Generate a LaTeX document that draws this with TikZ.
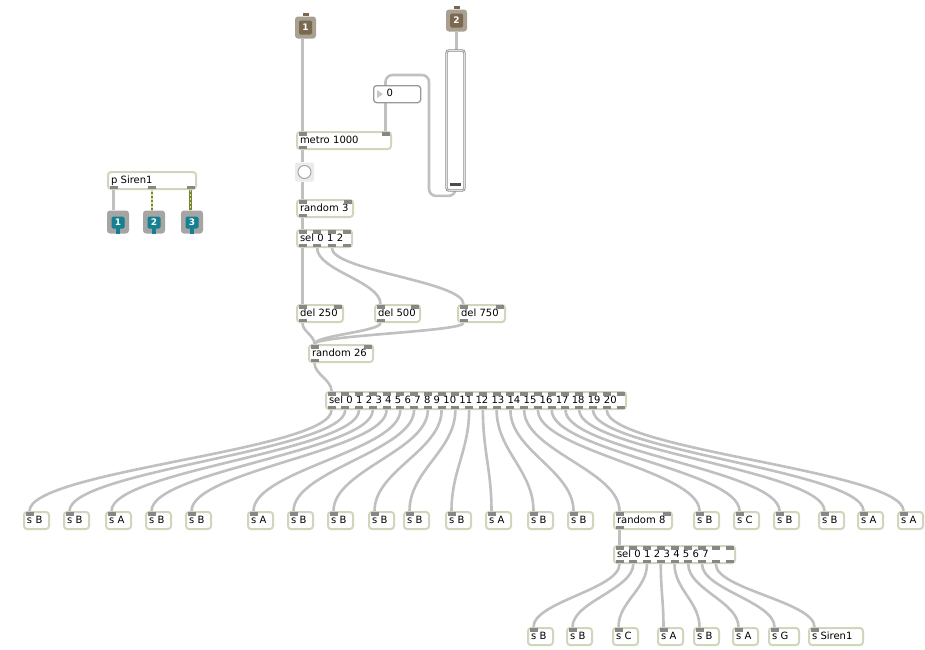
\documentclass[tikz,border=0pt]{standalone}
\usepackage{fontspec}
\setsansfont{DejaVu Sans}
\usetikzlibrary{calc,backgrounds}

\definecolor{objline}{RGB}{208,214,188}
\definecolor{tabgray}{RGB}{135,135,135}
\definecolor{cordgray}{RGB}{192,192,192}
\definecolor{inletout}{RGB}{168,160,145}
\definecolor{inletin}{RGB}{122,105,78}
\definecolor{outletout}{RGB}{165,165,165}
\definecolor{outletin}{RGB}{20,128,145}
\definecolor{sigdark}{RGB}{118,132,58}
\definecolor{siglight}{RGB}{218,225,135}

% inlet/outlet tabs of a box: name, inlets, outlets
\newcommand\ports[3]{%
  \path (#1.north west) ++(6.5pt,0pt) coordinate (#1-tl)
        (#1.north east) ++(-6.5pt,0pt) coordinate (#1-tr)
        (#1.south west) ++(6.5pt,0pt) coordinate (#1-bl)
        (#1.south east) ++(-6.5pt,0pt) coordinate (#1-br);
  \ifnum#2>0
    \foreach \pk in {1,...,#2}{%
      \pgfmathsetmacro\pp{(\pk-1)/max(#2-1,1)}%
      \coordinate (#1-i\pk) at ($(#1-tl)!\pp!(#1-tr)$);
      \fill[tab] ($(#1-i\pk)+(-4pt,-1pt)$) rectangle ++(8pt,-3.5pt);
    }%
  \fi
  \ifnum#3>0
    \foreach \pk in {1,...,#3}{%
      \pgfmathsetmacro\pp{(\pk-1)/max(#3-1,1)}%
      \coordinate (#1-o\pk) at ($(#1-bl)!\pp!(#1-br)$);
      \fill[tab] ($(#1-o\pk)+(-4pt,1pt)$) rectangle ++(8pt,3.5pt);
    }%
  \fi
}

\begin{document}
\begin{tikzpicture}[x=1pt, y=-1pt,
  obj/.style={draw=objline, line width=2pt, rounded corners=3pt, fill=white, anchor=north west,
    minimum height=17pt, inner xsep=3pt, inner ysep=0pt, text width=#1, align=left,
    font=\sffamily\fontsize{10}{12}\selectfont, text height=7.5pt, text depth=2pt},
  tab/.style={fill=tabgray},
  wire/.style={draw=cordgray, line width=2.6pt},
  cord/.style={wire, to path={let \p1=(\tikztostart), \p2=(\tikztotarget),
    \n1={max(abs(\y2-\y1)*0.4,4pt)} in
    .. controls +(0pt,-\n1) and +(0pt,\n1) .. (\tikztotarget)}},
  sigwire/.style={draw=sigdark, line width=2.6pt,
    postaction={draw=siglight, line width=1.4pt, dash pattern=on 2pt off 2pt}},
  inletbox/.style={fill=inletout, rounded corners=3pt, minimum width=21pt, minimum height=22pt,
    inner sep=0pt, text=white, font=\sffamily\bfseries\fontsize{9}{10}\selectfont,
    path picture={\fill[inletin, rounded corners=1.5pt]
      ($(path picture bounding box.south west)+(4pt,4pt)$) rectangle
      ($(path picture bounding box.north east)+(-4pt,-4pt)$);}},
  outletbox/.style={inletbox, fill=outletout, minimum width=22pt, minimum height=23pt,
    path picture={\fill[outletin, rounded corners=1.5pt]
      ($(path picture bounding box.south west)+(4.5pt,5pt)$) rectangle
      ($(path picture bounding box.north east)+(-4.5pt,-6pt)$);}},
  numbox/.style={draw=black!40, line width=1.3pt, rounded corners=3pt, fill=white, anchor=north west,
    minimum height=17pt, inner xsep=3pt, inner ysep=0pt, text width=41pt, align=left,
    font=\sffamily\fontsize{10}{12}\selectfont, text height=7.5pt, text depth=2pt},
  slider/.style={draw=black!45, line width=0.8pt, double=black!12, double distance=0.8pt,
    rounded corners=2.5pt, fill=white, minimum width=18pt, minimum height=140pt, inner sep=0pt},
  bangbox/.style={fill=black!8, rounded corners=2pt, minimum size=19pt, inner sep=0pt},
  bangdot/.style={circle, draw=black!35, fill=white, line width=1pt, minimum size=13pt, inner sep=0pt},
]
\useasboundingbox (0,0) rectangle (925,649);

% === INLETS, SLIDER, METRO ===
\node[inletbox] (in1) at (305.5,27.5) {1};
\node[inletbox] (in2) at (456.5,20.5) {2};
\fill[inletin] ($(in1.north)+(-3pt,0pt)$) rectangle ++(6pt,3pt);
\fill[inletin] ($(in2.north)+(-3pt,0pt)$) rectangle ++(6pt,3pt);

\node[slider] (slider) at (455.5,120.5) {};
\fill[black!70] ($(slider.south west)+(3.5pt,5pt)$) rectangle ($(slider.south east)+(-3.5pt,8pt)$);

\node[numbox] (num) at (373,85) {\hspace*{10pt}0};
\fill[black!22] ($(num.west)+(4pt,4pt)$) -- ++(0pt,-8pt) -- ++(6pt,4pt) -- cycle;
\coordinate (loop) at (429,75);

\node[obj=88pt] (metro) at (296,131) {metro 1000};
\node[bangbox] (bang) at (304.5,172) {};
\node[bangdot] (bangc) at (bang.center) {};
\node[obj=50pt] (rnd3) at (296,199) {random 3};
\node[obj=49pt] (sel3) at (296,229) {sel 0 1 2};

% === DELAYS ===
\node[obj=40pt] (del1) at (296,304) {del 250};
\node[obj=39pt] (del2) at (374,304) {del 500};
\node[obj=41pt] (del3) at (457,304) {del 750};
\node[obj=58pt] (rnd26) at (308,344) {random 26};
\node[obj=294pt] (sel21) at (325,391) {sel 0 1 2 3 4 5 6 7 8 9 10 11 12 13 14 15 16 17 18 19 20};

% === SENDS ===
\foreach \k/\x/\t in {1/23/s B, 2/63/s B, 3/105/s A, 4/145/s B, 5/185/s B, 6/247/s A,
    7/287/s B, 8/327/s B, 9/368/s B, 10/403/s B, 11/445/s B, 12/485/s A, 13/527/s B,
    14/567/s B, 16/693/s B, 17/733/s C, 18/773/s B, 19/818/s B, 20/857/s A, 21/897/s A}
  \node[obj=19pt] (b\k) at (\x,511) {\t};
\node[obj=52pt] (rnd8) at (613,511) {random 8};
\node[obj=115pt] (sel8) at (613,545) {sel 0 1 2 3 4 5 6 7};
\foreach \k/\x/\w/\t in {1/527/19pt/s B, 2/566/19pt/s B, 3/612/19pt/s C, 4/657/19pt/s A,
    5/693/19pt/s B, 6/732/19pt/s A, 7/768/24pt/s G, 8/808/48pt/s Siren1}
  \node[obj=\w] (c\k) at (\x,627) {\t};

% === SUBPATCH ===
\node[obj=82pt] (siren) at (107,171) {p Siren1};
\node[outletbox] (out1) at (118,222) {1};
\node[outletbox] (out2) at (154,222) {2};
\node[outletbox] (out3) at (192,222) {3};
\foreach \o in {out1,out2,out3}
  \fill[outletin] ($(\o.south)+(-2pt,0pt)$) rectangle ++(4pt,6pt);

% tabs
\ports{metro}{2}{1}
\ports{rnd3}{2}{1}
\ports{sel3}{4}{4}
\foreach \d in {del1,del2,del3} {\ports{\d}{2}{1}}
\ports{rnd26}{2}{1}
\ports{sel21}{22}{22}
\foreach \k in {1,...,14,16,17,...,21} {\ports{b\k}{1}{0}}
\ports{rnd8}{2}{1}
\ports{sel8}{9}{9}
\foreach \k in {1,...,8} {\ports{c\k}{1}{0}}
\ports{siren}{0}{3}

% === CORDS ===
\begin{scope}[on background layer]
\fill[white] (0,0) rectangle (925,649);
\draw[wire] (metro-i1 |- in1.south) -- (metro-i1);
\draw[wire] (in2.south) -- (in2.south |- slider.north);
\draw[wire, rounded corners=7pt] (slider.south) -- ++(0pt,-5pt) -| (loop) -| (num.north -| metro-i2);
\draw[wire] (num.south -| metro-i2) -- (metro-i2);
\draw[wire] (metro-o1) -- (metro-o1 |- bang.north);
\draw[wire] (rnd3-i1 |- bang.south) -- (rnd3-i1);
\draw[cord] (rnd3-o1) to (sel3-i1);
\draw[cord] (sel3-o1) to (del1-i1);
\draw[cord] (sel3-o2) to (del2-i1);
\draw[cord] (sel3-o3) to (del3-i1);
\foreach \d in {1,2,3} \draw[cord] (del\d-o1) to (rnd26-i1);
\draw[cord] (rnd26-o1) to (sel21-i1);
\foreach \k in {1,...,14,16,17,...,21} \draw[cord] (sel21-o\k) to (b\k-i1);
\draw[cord] (sel21-o15) to (rnd8-i1);
\draw[cord] (rnd8-o1) to (sel8-i1);
\foreach \k in {1,...,8} \draw[cord] (sel8-o\k) to (c\k-i1);
\draw[wire] (siren-o1) -- (siren-o1 |- out1.north);
\draw[sigwire] (siren-o2) -- (siren-o2 |- out2.north);
\draw[sigwire] (siren-o3) -- (siren-o3 |- out3.north);
\end{scope}
\end{tikzpicture}
\end{document}
